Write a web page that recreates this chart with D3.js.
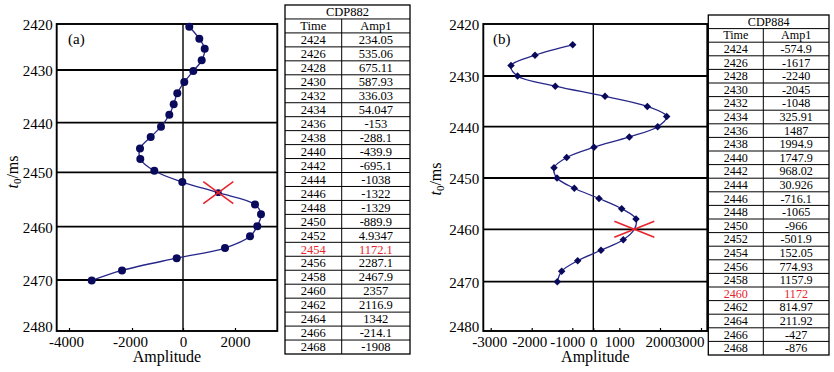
<!DOCTYPE html>
<html><head><meta charset="utf-8">
<script src="https://cdn.jsdelivr.net/npm/d3@7"></script>
<style>
html,body{margin:0;padding:0;background:#fff;}
svg{display:block;font-family:"Liberation Serif","Times New Roman",Tinos,serif;}
</style></head>
<body>
<svg id="c" width="834" height="372"></svg>
<script>
// ---------- data ----------
const leftTimes = [2420.6, 2423.2, 2425.4, 2427.9, 2430.2, 2432.3, 2434.4, 2436.5, 2438.5, 2440.8, 2442.9, 2445.2, 2447.3, 2449.7, 2451.8, 2453.75, 2455.9, 2457.7, 2459.9, 2461.8, 2464.0, 2465.9, 2468.2, 2470.1];
const leftAmps  = [242, 627, 835, 719, 396, 50, -224, -365, -537, -863, -1267, -1686, -1675, -1125, -27, 1358, 2769, 3000, 2858, 2577, 1615, -247, -2317, -3279];
const leftMark = 15;

const rightTimes = [2424, 2426, 2428, 2430, 2432, 2434, 2436, 2438, 2440, 2442, 2444, 2446, 2448, 2450, 2452, 2454, 2456, 2458, 2460, 2462, 2464, 2466, 2468, 2470];
const rightAmps  = [-981, -1919, -2505, -2345, -1419, 450, 1688, 2163, 1943, 1246, 27, -1138, -1451, -1377, -905, 219, 1059, 1410, 1369, 1098, 296, -743, -1261, -1369];
const rightMark = 18;

const yTickValues = [2420, 2430, 2440, 2450, 2460, 2470, 2480];
const leftXTicks = [-4000, -2000, 0, 2000];
const rightXTicks = [-3000, -2000, -1000, 0, 1000, 2000, 3000];

const table882Title = "CDP882";
const table884Title = "CDP884";
const tableHeader = ["Time", "Amp1"];
const table882Time = ["2424","2426","2428","2430","2432","2434","2436","2438","2440","2442","2444","2446","2448","2450","2452","2454","2456","2458","2460","2462","2464","2466","2468"];
const table882Amp  = ["234.05","535.06","675.11","587.93","336.03","54.047","-153","-288.1","-439.9","-695.1","-1038","-1322","-1329","-889.9","4.9347","1172.1","2287.1","2467.9","2357","2116.9","1342","-214.1","-1908"];
const table882Red = 15;
const table884Time = ["2424","2426","2428","2430","2432","2434","2436","2438","2440","2442","2444","2446","2448","2450","2452","2454","2456","2458","2460","2462","2464","2466","2468"];
const table884Amp  = ["-574.9","-1617","-2240","-2045","-1048","325.91","1487","1994.9","1747.9","968.02","30.926","-716.1","-1065","-966","-501.9","152.05","774.93","1157.9","1172","814.97","211.92","-427","-876"];
const table884Red = 18;

// ---------- drawing ----------
const FONT = '"Liberation Serif","Times New Roman",Tinos,serif';
const svg = d3.select("#c");
svg.append("rect").attr("width",834).attr("height",372).attr("fill","#fff");
const root = svg.append("g").attr("font-family",FONT);

const LINE = "#26268a", DOT = "#0a0a5c", RED = "#e8242c";

function panel(opt){
  const g = root.append("g");
  const x = d3.scaleLinear().domain(opt.xTicks).range(opt.xRange);
  const y = d3.scaleLinear().domain(yTickValues).range(opt.yRange);
  const L = opt.frame[0], R = opt.frame[1], T = opt.yRange[0], B = opt.yRange[opt.yRange.length-1];

  g.selectAll("line.h").data(yTickValues.slice(1,-1)).enter().append("line")
    .attr("x1",L).attr("x2",R).attr("y1",d=>y(d)).attr("y2",d=>y(d))
    .attr("stroke","#000").attr("stroke-width",1.8);
  g.append("line").attr("x1",x(0)).attr("x2",x(0)).attr("y1",T).attr("y2",B)
    .attr("stroke","#000").attr("stroke-width",1.4);

  const xa = g.append("g").attr("transform",`translate(0,${B})`)
    .call(d3.axisBottom(x).tickValues(opt.xTicks).tickSize(-3).tickPadding(5).tickFormat(d3.format("d")));
  xa.attr("font-family",FONT);
  xa.select(".domain").remove();
  xa.selectAll("line").attr("stroke","#000").attr("stroke-width",1.2);
  xa.selectAll("text").attr("font-size",15).attr("fill","#000").attr("font-family",FONT)
    .text(d=> d<0 ? "-"+Math.abs(d) : String(d))
    .attr("dx",d=> (opt.labelShift && opt.labelShift[d]) || 0);

  const ya = g.append("g").attr("transform",`translate(${L},0)`)
    .call(d3.axisLeft(y).tickValues(yTickValues).tickSize(0).tickPadding(4).tickFormat(d3.format("d")));
  ya.attr("font-family",FONT);
  ya.select(".domain").remove();
  ya.selectAll("text").attr("font-size",15).attr("fill","#000").attr("font-family",FONT)
    .attr("dy",d=> d===yTickValues[yTickValues.length-1] ? "0.05em" : "0.36em");

  g.append("rect").attr("x",L).attr("y",T).attr("width",R-L).attr("height",B-T)
    .attr("fill","none").attr("stroke","#000").attr("stroke-width",1.9);

  const pts = opt.times.map((t,i)=>({t, a:opt.amps[i], i}));
  const line = d3.line().x(d=>x(d.a)).y(d=>y(d.t)).curve(d3.curveCatmullRom.alpha(0.5));
  g.append("path").attr("d",line(pts)).attr("fill","none").attr("stroke",LINE).attr("stroke-width",1.3);

  const dots = pts.filter(d=>d.i!==opt.mark);
  if (opt.shape==="circle"){
    g.selectAll("circle.d").data(dots).enter().append("circle")
      .attr("cx",d=>x(d.a)).attr("cy",d=>y(d.t)).attr("r",4).attr("fill",DOT);
  } else {
    const sym = d3.symbol().type(d3.symbolSquare).size(28);
    g.selectAll("path.d").data(dots).enter().append("path")
      .attr("d",sym).attr("fill",DOT)
      .attr("transform",d=>`translate(${x(d.a)},${y(d.t)}) rotate(45)`);
  }
  const m = pts[opt.mark], cx = x(m.a), cy = y(m.t), hw = opt.crossW, hh = opt.crossH;
  if (opt.shape==="circle") g.append("circle").attr("cx",cx).attr("cy",cy).attr("r",3.4).attr("fill",DOT);
  g.append("line").attr("x1",cx-hw).attr("y1",cy-hh).attr("x2",cx+hw).attr("y2",cy+hh).attr("stroke",RED).attr("stroke-width",1.6);
  g.append("line").attr("x1",cx-hw).attr("y1",cy+hh).attr("x2",cx+hw).attr("y2",cy-hh).attr("stroke",RED).attr("stroke-width",1.6);

  g.append("text").attr("x",opt.tag[0]).attr("y",opt.tag[1]).attr("font-size",15).text(opt.tagText);
  g.append("text").attr("x",(L+R)/2).attr("y",362).attr("text-anchor","middle").attr("font-size",16).text("Amplitude");
  const yt = g.append("text").attr("transform",`translate(${opt.ytitle[0]},${opt.ytitle[1]}) rotate(-90)`)
    .attr("text-anchor","middle").attr("font-size",16);
  yt.append("tspan").attr("font-style","italic").text("t");
  yt.append("tspan").attr("font-size",11).attr("dy",3).text("0");
  yt.append("tspan").attr("dy",-3).text("/ms");
}

panel({xTicks:leftXTicks, xRange:[69,132,183,235], frame:[56.7,277.3],
  yRange:[24,70,122.7,172.3,226.7,280,331], times:leftTimes, amps:leftAmps, mark:leftMark,
  shape:"circle", crossW:15, crossH:11, tag:[68,44], tagText:"(a)", ytitle:[18,172],
  labelShift:{"-4000":-3, "-2000":-2}});
panel({xTicks:rightXTicks, xRange:[490.7,531.7,572.3,593.3,619.3,660,701], frame:[483.3,707.3],
  yRange:[24,76,126.7,178,229.3,281.7,331], times:rightTimes, amps:rightAmps, mark:rightMark,
  shape:"diamond", crossW:20, crossH:8, tag:[493,44], tagText:"(b)", ytitle:[441,179],
  labelShift:{"-3000":-1.5, "-2000":-2.5, "-1000":-5, "3000":-12}});

function table(opt){
  const g = root.append("g");
  const n = opt.time.length + 2;
  const yRow = d3.scaleLinear().domain([0,n]).range([opt.y0,opt.y1]);
  const cols = d3.scaleLinear().domain([0,1,2]).range([opt.x0,opt.xm,opt.x1]);
  const rh = yRow(1)-yRow(0);
  const fs = Math.floor(rh/1.115*10)/10;   // keep each text inside its own row
  g.selectAll("line.r").data(d3.range(1,n)).enter().append("line")
    .attr("x1",opt.x0).attr("x2",opt.x1).attr("y1",d=>yRow(d)).attr("y2",d=>yRow(d))
    .attr("stroke","#000").attr("stroke-width",1);
  g.append("line").attr("x1",opt.xm).attr("x2",opt.xm).attr("y1",yRow(1)).attr("y2",yRow(n))
    .attr("stroke","#000").attr("stroke-width",1);
  g.append("rect").attr("x",opt.x0).attr("y",opt.y0).attr("width",opt.x1-opt.x0).attr("height",opt.y1-opt.y0)
    .attr("fill","none").attr("stroke","#000").attr("stroke-width",1.3);
  const base = fs*0.895;
  const cell = (xx, row, txt, fill) => g.append("text").attr("x",xx).attr("y",yRow(row)+base)
    .attr("text-anchor","middle").attr("font-size",fs).attr("fill",fill||"#000").text(txt);
  cell((opt.x0+opt.x1)/2, 0, opt.title);
  tableHeader.forEach((h,j)=> cell((cols(j)+cols(j+1))/2, 1, h));
  opt.time.forEach((t,i)=>{
    const fill = i===opt.red ? RED : "#000";
    cell((cols(0)+cols(1))/2, i+2, t, fill);
    cell((cols(1)+cols(2))/2, i+2, opt.amp[i], fill);
  });
}
table({x0:285, xm:341.7, x1:410, y0:5, y1:354, title:table882Title, time:table882Time, amp:table882Amp, red:table882Red});
table({x0:708.3, xm:763.3, x1:829, y0:15, y1:355, title:table884Title, time:table884Time, amp:table884Amp, red:table884Red});
</script>
</body></html>
